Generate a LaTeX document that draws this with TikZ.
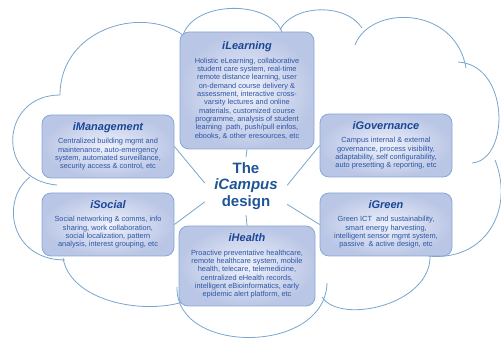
\documentclass[tikz,border=0pt]{standalone}
\usepackage{fontspec}
\setmainfont{Liberation Sans}
\definecolor{cloudline}{RGB}{120,165,205}
\definecolor{boxline}{RGB}{135,168,214}
\definecolor{boxin}{RGB}{238,241,251}
\definecolor{boxout}{RGB}{186,198,229}
\definecolor{headblue}{RGB}{25,70,150}
\definecolor{textblue}{RGB}{45,85,165}
\definecolor{coreblue}{RGB}{30,85,150}
\newcommand{\ihead}[1]{{\fontsize{11}{13}\selectfont\bfseries\itshape\color{headblue}#1}\\[5pt]}
\begin{document}
\begin{tikzpicture}[x=1pt,y=-1pt,
  cloud/.style={draw=cloudline,line width=0.8pt},
  ibox/.style={draw=boxline,line width=0.8pt,rounded corners=9pt,inner color=boxin,outer color=boxout,
    align=center,text=textblue,font=\fontsize{7.4}{8.33}\selectfont,minimum width=132pt,minimum height=63pt,inner sep=2pt},
  core/.style={align=center,text=coreblue,font=\fontsize{15}{16.5}\selectfont\bfseries,minimum width=82pt,minimum height=58pt},
  link/.style={draw=cloudline,line width=0.8pt}]
\useasboundingbox (0,0) rectangle (501,339);
% cloud behind the boxes
\draw[cloud] (57,185) .. controls (-5,180) and (0,95) .. (60,95);
\draw[cloud] (60,95) .. controls (60,30) and (140,5) .. (183,35);
\draw[cloud] (183,35) .. controls (195,0) and (270,0) .. (282,32);
\draw[cloud] (280,30) .. controls (292,5) and (345,2) .. (362,28);
\draw[cloud] (355,45) .. controls (370,5) and (455,5) .. (466,68);
\draw[cloud] (458,62) .. controls (510,65) and (510,160) .. (472,163);
\draw[cloud] (495,160) .. controls (515,210) and (485,262) .. (428,256);
\draw[cloud] (430,255) .. controls (432,305) and (340,325) .. (322,297);
\draw[cloud] (327,283) .. controls (325,355) and (175,355) .. (177,287);
\draw[cloud] (183,302) .. controls (140,315) and (70,300) .. (63,258);
\draw[cloud] (30,177) .. controls (0,200) and (10,260) .. (65,260);
% boxes
\node[ibox,minimum width=134pt,minimum height=117pt] (learn) at (247,90.5) {\ihead{iLearning}Holistic eLearning, collaborative\\student care system, real-time\\remote distance learning, user\\on-demand course delivery \&\\assessment, interactive cross-\\varsity lectures and online\\materials, customized course\\programme, analysis of student\\learning\ \ path, push/pull einfos,\\ebooks, \& other eresources, etc};
\node[ibox] (mgmt) at (108,146.5) {\ihead{iManagement}Centralized building mgmt and\\maintenance, auto-emergency\\system, automated surveillance,\\security access \& control, etc};
\node[ibox] (gov) at (386,145.5) {\ihead{iGovernance}Campus internal \& external\\governance, process visibility,\\adaptability, self configurability,\\auto presetting \& reporting, etc};
\node[ibox] (social) at (108,224.5) {\ihead{iSocial}Social networking \& comms, info\\sharing, work collaboration,\\social localization, pattern\\analysis, interest grouping, etc};
\node[ibox] (green) at (386,224.5) {\ihead{iGreen}Green ICT\ \ and sustainability,\\smart energy harvesting,\\intelligent sensor mgmt system,\\passive\ \ \& active design, etc};
\node[ibox,minimum width=136pt,minimum height=80pt] (health) at (247,266) {\ihead{iHealth}Proactive preventative healthcare,\\remote healthcare system, mobile\\health, telecare, telemedicine,\\centralized eHealth records,\\intelligent eBioinformatics, early\\epidemic alert platform, etc};
\node[core] (core) at (246,186) {The\\\textit{iCampus}\\design};
% links to the centre
\draw[link] (learn.south) -- (core.north);
\draw[link] (health.north) -- (core.south);
\draw[link] (mgmt.east) -- (core.176);
\draw[link] (social.east) -- (core.201);
\draw[link] (gov.west) -- (core.1);
\draw[link] (green.west) -- (core.336);
\end{tikzpicture}
\end{document}
